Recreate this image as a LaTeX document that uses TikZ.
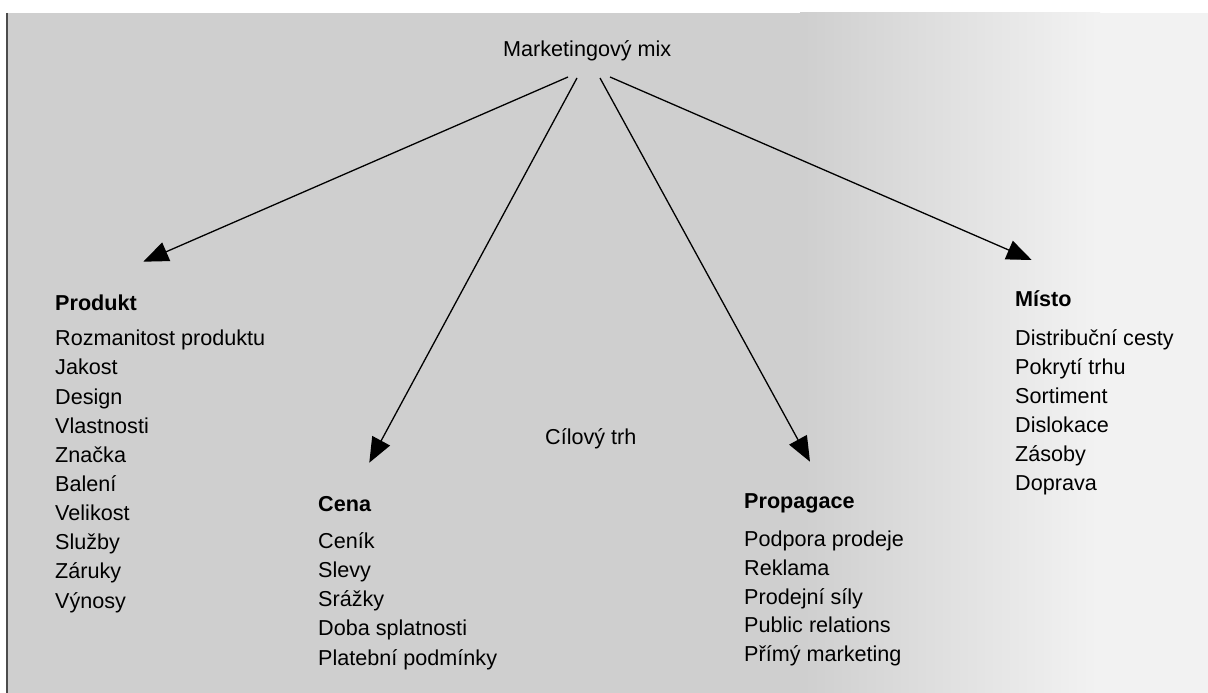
\documentclass[tikz,border=0pt]{standalone}
\usepackage{fontspec}
\setmainfont{Liberation Sans}
\usetikzlibrary{arrows.meta}
\tikzset{
  lbl/.style={inner sep=0pt, anchor=base west, font=\fontsize{21.6}{25}\selectfont},
  ttl/.style={lbl, font=\fontsize{21.6}{25}\selectfont\bfseries},
  conn/.style={line width=1.3pt, -{Triangle[length=25pt,width=20pt]}},
}
\begin{document}
\begin{tikzpicture}[x=1pt,y=-1pt]
\useasboundingbox (0,0) rectangle (1208,693);
% background (scanned grey paper)
\fill[white] (0,0) rectangle (1208,693);
\fill[black!19] (7,13) rectangle (800,693);
\shade[left color=black!19, right color=black!5] (800,13) rectangle (1100,693);
\fill[black!5] (1100,13) rectangle (1208,693);
\draw[black!70, line width=1.2pt] (7,13) -- (7,693);

% root
\node[lbl] (mm) at (503,56.7) {Marketingový mix};
\coordinate (s1) at (568,77);
\coordinate (s2) at (577,78);
\coordinate (s3) at (600,78);
\coordinate (s4) at (610,77);

% arrow tips
\coordinate (t1) at (143.3,261.7);
\coordinate (t2) at (369.3,462.7);
\coordinate (t3) at (810,461.7);
\coordinate (t4) at (1031.7,260);

\draw[conn] (s1) -- (t1);
\draw[conn] (s2) -- (t2);
\draw[conn] (s3) -- (t3);
\draw[conn] (s4) -- (t4);

% centre
\node[lbl] (trh) at (545,444) {Cílový trh};

% Produkt
\node[ttl] (produkt) at (55,310) {Produkt};
\foreach \t [count=\i from 0] in {Rozmanitost produktu,Jakost,Design,Vlastnosti,Značka,Balení,Velikost,Služby,Záruky,Výnosy}
  \node[lbl] (p\i) at (55,345.7+29.15*\i) {\t};

% Cena
\node[ttl] (cena) at (318,511.7) {Cena};
\foreach \t [count=\i from 0] in {Ceník,Slevy,Srážky,Doba splatnosti,Platební podmínky}
  \node[lbl] (c\i) at (318,548+29.25*\i) {\t};

% Propagace
\node[ttl] (propagace) at (744,508) {Propagace};
\foreach \t [count=\i from 0] in {Podpora prodeje,Reklama,Prodejní síly,Public relations,Přímý marketing}
  \node[lbl] (r\i) at (744,546.7+28.75*\i) {\t};

% Místo
\node[ttl] (misto) at (1015,306.7) {Místo};
\foreach \t [count=\i from 0] in {Distribuční cesty,Pokrytí trhu,Sortiment,Dislokace,Zásoby,Doprava}
  \node[lbl] (m\i) at (1015,345+29*\i) {\t};
\end{tikzpicture}
\end{document}
